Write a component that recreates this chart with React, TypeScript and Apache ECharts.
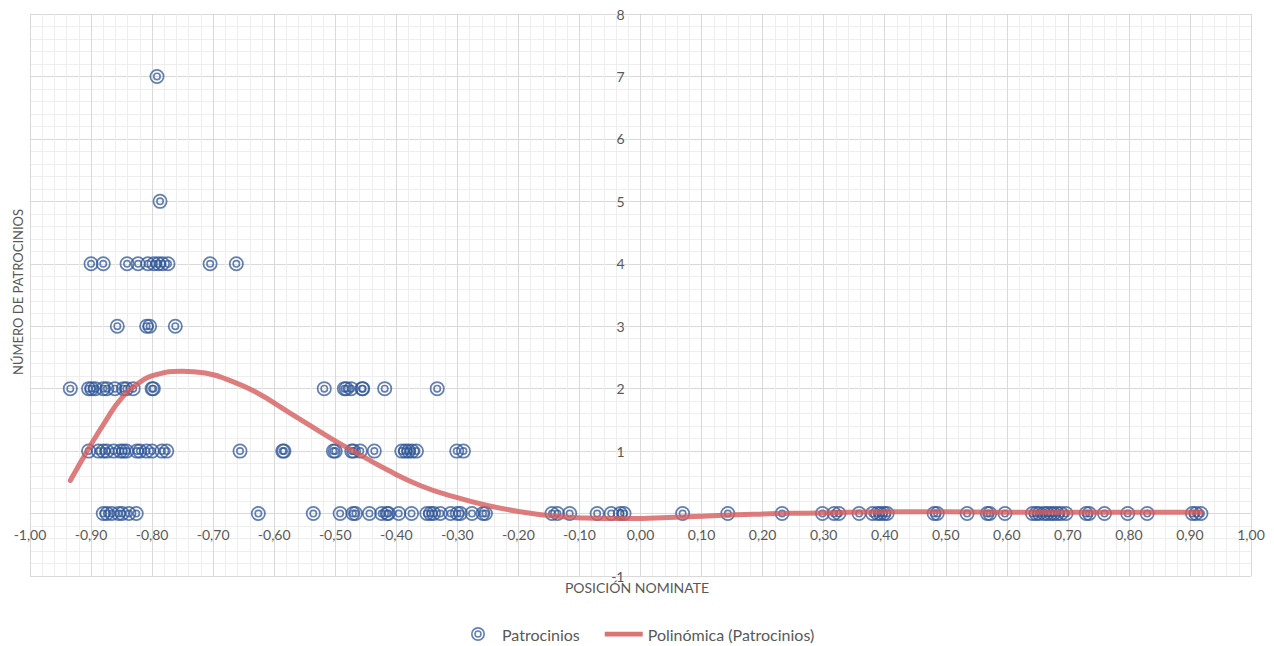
import React, { useEffect, useRef } from "react";
import * as echarts from "echarts";

// Scatter points grouped by number of sponsorships (y value)
const xAtY0 = [
  -0.880, -0.874, -0.866, -0.855, -0.849, -0.838, -0.826, -0.626, -0.536, -0.492,
  -0.471, -0.467, -0.444, -0.424, -0.415, -0.413, -0.396, -0.375, -0.350, -0.344,
  -0.339, -0.328, -0.311, -0.300, -0.295, -0.276, -0.258, -0.254, -0.145, -0.136,
  -0.116, -0.071, -0.048, -0.033, -0.027, 0.069, 0.143, 0.232, 0.298, 0.317,
  0.325, 0.358, 0.380, 0.388, 0.393, 0.399, 0.404, 0.481, 0.486, 0.535,
  0.568, 0.572, 0.597, 0.642, 0.648, 0.653, 0.661, 0.666, 0.672, 0.677,
  0.683, 0.689, 0.697, 0.730, 0.735, 0.760, 0.798, 0.830, 0.904, 0.910, 0.918,
];
const xAtY1 = [
  -0.904, -0.888, -0.880, -0.874, -0.863, -0.852, -0.847, -0.842, -0.825, -0.820,
  -0.809, -0.800, -0.784, -0.776, -0.656, -0.586, -0.584, -0.503, -0.500, -0.473,
  -0.470, -0.459, -0.436, -0.391, -0.385, -0.380, -0.374, -0.367, -0.301, -0.290,
];
const xAtY2 = [
  -0.934, -0.904, -0.899, -0.893, -0.880, -0.874, -0.861, -0.847, -0.842, -0.831,
  -0.800, -0.798, -0.518, -0.485, -0.482, -0.474, -0.456, -0.455, -0.419, -0.333,
];
const xAtY3 = [-0.857, -0.809, -0.804, -0.762];
const xAtY4 = [-0.900, -0.880, -0.841, -0.823, -0.807, -0.797, -0.790, -0.783, -0.774, -0.705, -0.662];
const xAtY5 = [-0.787];
const xAtY7 = [-0.792];

// Polynomial trend line
const trendX = [
  -0.934, -0.904, -0.877, -0.850, -0.822, -0.795, -0.751, -0.713, -0.675, -0.631,
  -0.574, -0.503, -0.470, -0.415, -0.361, -0.306, -0.251, -0.197, -0.143, -0.090,
  -0.033, 0.077, 0.185, 0.295, 0.404, 0.500, 0.600, 0.700, 0.800, 0.918,
];
const trendY = [
  0.53, 1.04, 1.47, 1.85, 2.09, 2.22, 2.28, 2.25, 2.14, 1.95,
  1.61, 1.18, 1.00, 0.70, 0.45, 0.27, 0.13, 0.03, -0.04, -0.07,
  -0.08, -0.05, -0.01, 0.01, 0.03, 0.03, 0.02, 0.02, 0.02, 0.02,
];

const seriesNames = ["Patrocinios", "Polinómica (Patrocinios)"];
const xTitle = "POSICIÓN NOMINATE";
const yTitle = "NÚMERO DE PATROCINIOS";

const X_MIN = -1, X_MAX = 1, Y_MIN = -1, Y_MAX = 8;

const TARGET =
  "path://M12,0A12,12 0 1,1 12,24A12,12 0 1,1 12,0Z M12,2.8A9.2,9.2 0 1,0 12,21.2A9.2,9.2 0 1,0 12,2.8Z M12,5.6A6.4,6.4 0 1,1 12,18.4A6.4,6.4 0 1,1 12,5.6Z M12,8.2A3.8,3.8 0 1,0 12,15.8A3.8,3.8 0 1,0 12,8.2Z";
const LINE_ICON = "path://M0,0H40V5H0Z";

const FONT = "Lato, 'Open Sans', sans-serif";
const TEXT = "#595959";

const W = 1274, H = 646;
const GRID = { left: 30, right: 23, top: 14, bottom: 70 };

export default function App() {
  const ref = useRef<HTMLDivElement>(null);
  useEffect(() => {
    if (!ref.current) return;
    const chart = echarts.init(ref.current, undefined, { renderer: "svg" });
    const groups: [number, number[]][] = [
      [0, xAtY0], [1, xAtY1], [2, xAtY2], [3, xAtY3], [4, xAtY4], [5, xAtY5], [7, xAtY7],
    ];
    const scatterData: number[][] = [];
    groups.forEach(([y, xs]) => xs.forEach((x) => scatterData.push([x, y])));
    const trendData = trendX.map((x, i) => [x, trendY[i]]);

    // Place the axes at the zero of the other axis (as in the reference)
    const plotW = W - GRID.left - GRID.right;
    const plotH = H - GRID.top - GRID.bottom;
    const xAxisOffset = -((0 - Y_MIN) / (Y_MAX - Y_MIN)) * plotH;
    const yAxisOffset = -((0 - X_MIN) / (X_MAX - X_MIN)) * plotW;

    chart.setOption({
      animation: false,
      backgroundColor: "#ffffff",
      textStyle: { fontFamily: FONT },
      grid: { ...GRID, containLabel: false },
      xAxis: {
        type: "value",
        min: X_MIN,
        max: X_MAX,
        interval: 0.1,
        position: "bottom",
        offset: xAxisOffset,
        axisLine: { onZero: false, lineStyle: { color: "#d9d9d9", width: 1 } },
        axisTick: { show: false },
        axisLabel: {
          color: TEXT,
          fontSize: 14,
          fontFamily: FONT,
          margin: 14,
          formatter: (v: number) => v.toFixed(2).replace(".", ",").replace("-0,00", "0,00"),
        },
        splitLine: { show: true, lineStyle: { color: "#d9d9d9", width: 1 } },
        minorTick: { show: false, splitNumber: 5 },
        minorSplitLine: { show: true, lineStyle: { color: "#eeeeee", width: 1 } },
      },
      yAxis: {
        type: "value",
        min: Y_MIN,
        max: Y_MAX,
        interval: 1,
        position: "left",
        offset: yAxisOffset,
        axisLine: { onZero: false, lineStyle: { color: "#d9d9d9", width: 1 } },
        axisTick: { show: false },
        axisLabel: { color: TEXT, fontSize: 14, fontFamily: FONT, margin: 16 },
        splitLine: { show: true, lineStyle: { color: "#d9d9d9", width: 1 } },
        minorTick: { show: false, splitNumber: 5 },
        minorSplitLine: { show: true, lineStyle: { color: "#eeeeee", width: 1 } },
      },
      legend: {
        left: 466,
        top: 621,
        itemWidth: 38,
        itemHeight: 14,
        itemGap: 25,
        textStyle: { color: TEXT, fontSize: 16, fontFamily: FONT },
        data: [
          { name: seriesNames[0], icon: TARGET },
          { name: seriesNames[1], icon: LINE_ICON },
        ],
      },
      series: [
        {
          name: seriesNames[0],
          type: "scatter",
          symbol: TARGET,
          symbolSize: 15,
          data: scatterData,
          itemStyle: { color: "#2F5597", opacity: 0.75 },
          z: 3,
        },
        {
          name: seriesNames[1],
          type: "line",
          smooth: true,
          showSymbol: false,
          symbol: "none",
          data: trendData,
          lineStyle: { color: "#d65c5c", width: 5, opacity: 0.8, cap: "round", join: "round" },
          itemStyle: { color: "#d65c5c", opacity: 0.85 },
          z: 4,
        },
      ],
      graphic: [
        {
          type: "text",
          left: "center",
          top: 580,
          style: { text: xTitle, fill: TEXT, fontSize: 14, fontFamily: FONT },
        },
        {
          type: "text",
          x: 18,
          y: 292,
          rotation: Math.PI / 2,
          style: {
            text: yTitle,
            fill: TEXT,
            fontSize: 13,
            fontFamily: FONT,
            align: "center",
            verticalAlign: "middle",
          },
        },
      ],
    });
    return () => chart.dispose();
  }, []);
  return (
    <div
      ref={ref}
      style={{ position: "fixed", left: 0, top: 0, width: W, height: H, background: "#fff" }}
    />
  );
}
